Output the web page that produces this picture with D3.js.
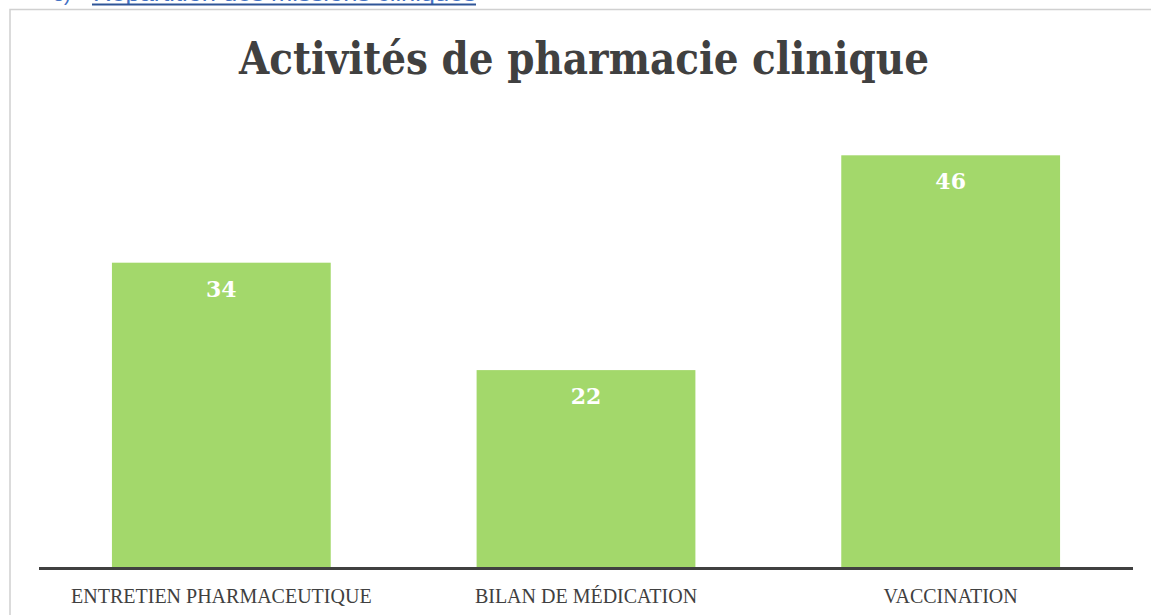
<!DOCTYPE html>
<html>
<head>
<meta charset="utf-8">
<script src="https://cdn.jsdelivr.net/npm/d3@7"></script>
<style>
  html, body { margin: 0; padding: 0; background: #fff; }
  svg { display: block; }
</style>
</head>
<body>
<div id="chart"></div>
<script>
// data
const categories = ['ENTRETIEN PHARMACEUTIQUE', 'BILAN DE MÉDICATION', 'VACCINATION'];
const values = [34, 22, 46];
const chartTitle = 'Activités de pharmacie clinique';
const headingNum = '3)';
const headingText = 'Répartition des missions cliniques';

const width = 1151;
const height = 615;

const svg = d3.select('#chart')
  .append('svg')
  .attr('width', width)
  .attr('height', height);

// cut-off heading of the document above the chart
svg.append('text')
  .attr('x', 53)
  .attr('y', 0.5)
  .attr('font-family', 'Liberation Sans, sans-serif')
  .attr('font-size', 20)
  .attr('fill', '#4472c4')
  .text(headingNum);
svg.append('text')
  .attr('x', 93)
  .attr('y', 0.5)
  .attr('font-family', 'Liberation Sans, sans-serif')
  .attr('font-size', 20)
  .attr('fill', '#4472c4')
  .attr('textLength', 383)
  .attr('lengthAdjust', 'spacingAndGlyphs')
  .text(headingText);
svg.append('line')
  .attr('x1', 92).attr('x2', 476)
  .attr('y1', 4.5).attr('y2', 4.5)
  .attr('stroke', '#2f5597')
  .attr('stroke-width', 2);

// chart frame (left + top edges visible)
svg.append('path')
  .attr('d', `M10,${height} V9.5 H${width}`)
  .attr('fill', 'none')
  .attr('stroke', '#d0d0d0')
  .attr('stroke-width', 1.5);

const x = d3.scaleBand()
  .domain(categories)
  .range([39, 1133])
  .paddingInner(0.4)
  .paddingOuter(0.2);

const y = d3.scaleLinear()
  .domain([0, 50])
  .range([567, 119.5]);

// title
svg.append('text')
  .attr('x', 584)
  .attr('y', 74)
  .attr('text-anchor', 'middle')
  .attr('font-family', 'DejaVu Serif, serif')
  .attr('font-weight', 'bold')
  .attr('font-size', 44)
  .attr('fill', '#404040')
  .attr('textLength', 690)
  .attr('lengthAdjust', 'spacingAndGlyphs')
  .text(chartTitle);

// bars
svg.selectAll('rect.bar')
  .data(values)
  .enter()
  .append('rect')
  .attr('class', 'bar')
  .attr('x', (_, i) => x(categories[i]))
  .attr('y', d => y(d))
  .attr('width', x.bandwidth())
  .attr('height', d => y(0) - y(d))
  .attr('fill', '#a3d86b');

// value labels inside bars
svg.selectAll('text.val')
  .data(values)
  .enter()
  .append('text')
  .attr('class', 'val')
  .attr('x', (_, i) => x(categories[i]) + x.bandwidth() / 2)
  .attr('y', d => y(d) + 34)
  .attr('text-anchor', 'middle')
  .attr('font-family', 'DejaVu Serif, serif')
  .attr('font-weight', 'bold')
  .attr('font-size', 22)
  .attr('fill', '#ffffff')
  .text(d => d);

// category axis
const xAxis = svg.append('g')
  .attr('transform', `translate(0,${y(0)})`)
  .call(d3.axisBottom(x).tickSize(0).tickPadding(0));
xAxis.select('.domain')
  .attr('d', 'M39,1.5H1133')
  .attr('stroke', '#404040')
  .attr('stroke-width', 3);
xAxis.selectAll('.tick text')
  .attr('y', 36)
  .attr('dy', 0)
  .attr('font-family', 'Liberation Serif, serif')
  .attr('font-size', 20)
  .attr('fill', '#404040');
</script>
</body>
</html>
